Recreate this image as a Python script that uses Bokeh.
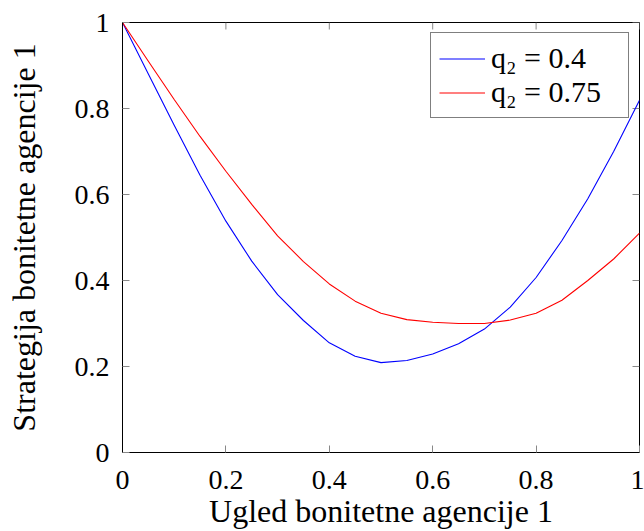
import math
from bokeh.plotting import figure
from bokeh.models import Range1d, FixedTicker, Legend, LegendItem
from bokeh.embed import file_html
from bokeh.resources import INLINE

# Data
x_vals = [0.0, 0.05, 0.1, 0.15, 0.2, 0.25, 0.3, 0.35, 0.4, 0.45, 0.5,
          0.55, 0.6, 0.65, 0.7, 0.75, 0.8, 0.85, 0.9, 0.95, 1.0]
y_q04 = [1.000, 0.880, 0.761, 0.645, 0.538, 0.445, 0.367, 0.307, 0.255, 0.224, 0.209,
         0.214, 0.229, 0.253, 0.287, 0.338, 0.407, 0.493, 0.590, 0.700, 0.819]
y_q075 = [1.000, 0.910, 0.821, 0.735, 0.654, 0.577, 0.504, 0.444, 0.392, 0.352, 0.324,
          0.309, 0.303, 0.300, 0.300, 0.308, 0.324, 0.354, 0.400, 0.450, 0.510]
series_labels = ["q\u2082 = 0.4", "q\u2082 = 0.75"]
series_colors = ["#0000ff", "#ff0000"]
tick_values = [0, 0.2, 0.4, 0.6, 0.8, 1]
tick_labels = {0: "0", 0.2: "0.2", 0.4: "0.4", 0.6: "0.6", 0.8: "0.8", 1: "1"}
x_min, x_max = 0, 1
y_min, y_max = 0, 1
x_label = "Ugled bonitetne agencije 1"
y_label = "Strategija bonitetne agencije 1"

FONT = "Liberation Serif"
FS = "28px"
LABEL_FS = "32px"
LEGEND_FS = "30px"
TICK_COLOR = "#888888"

p = figure(width=644, height=531, output_backend="svg", toolbar_location=None,
           x_range=Range1d(x_min, x_max), y_range=Range1d(y_min, y_max),
           min_border_left=122, min_border_right=5, min_border_top=22, min_border_bottom=78,
           x_axis_label=x_label, y_axis_label=y_label)
p.grid.visible = False
p.outline_line_color = "black"
p.outline_line_width = 1
p.background_fill_color = "white"
p.border_fill_color = "white"

for ax in p.axis:
    ax.ticker = FixedTicker(ticks=tick_values)
    ax.major_label_overrides = tick_labels
    ax.major_tick_in = 7
    ax.major_tick_out = 0
    ax.minor_tick_line_color = None
    ax.major_tick_line_color = TICK_COLOR
    ax.axis_line_color = "black"
    ax.major_label_text_font = FONT
    ax.major_label_text_font_size = FS
    ax.major_label_text_color = "black"
    ax.axis_label_text_font = FONT
    ax.axis_label_text_font_size = LABEL_FS
    ax.axis_label_text_font_style = "normal"
    ax.axis_label_text_color = "black"

p.xaxis.major_label_standoff = 18
p.xaxis.axis_label_standoff = 1
p.yaxis.major_label_standoff = 13
p.yaxis.axis_label_standoff = 30

# mirrored inward tick marks on the top and right frame edges
n = len(tick_values)
p.ray(x=tick_values, y=[y_max] * n, length=7, length_units="screen",
      angle=-math.pi / 2, line_color=TICK_COLOR, line_width=1)
p.ray(x=[x_max] * n, y=tick_values, length=7, length_units="screen",
      angle=math.pi, line_color=TICK_COLOR, line_width=1)

r1 = p.line(x_vals, y_q04, line_color=series_colors[0], line_width=1.1)
r2 = p.line(x_vals, y_q075, line_color=series_colors[1], line_width=1.1)

legend = Legend(items=[LegendItem(label=series_labels[0], renderers=[r1]),
                       LegendItem(label=series_labels[1], renderers=[r2])],
                location="top_right")
legend.label_text_font = FONT
legend.label_text_font_size = LEGEND_FS
legend.label_text_color = "black"
legend.glyph_width = 46
legend.glyph_height = 33
legend.label_height = 33
legend.label_width = 129
legend.label_standoff = 6
legend.padding = 8
legend.spacing = 0
legend.margin = 10
legend.border_line_color = "black"
legend.border_line_width = 1
legend.background_fill_color = "white"
legend.background_fill_alpha = 1.0
p.add_layout(legend)

open("out.html", "w").write(file_html(p, INLINE))
